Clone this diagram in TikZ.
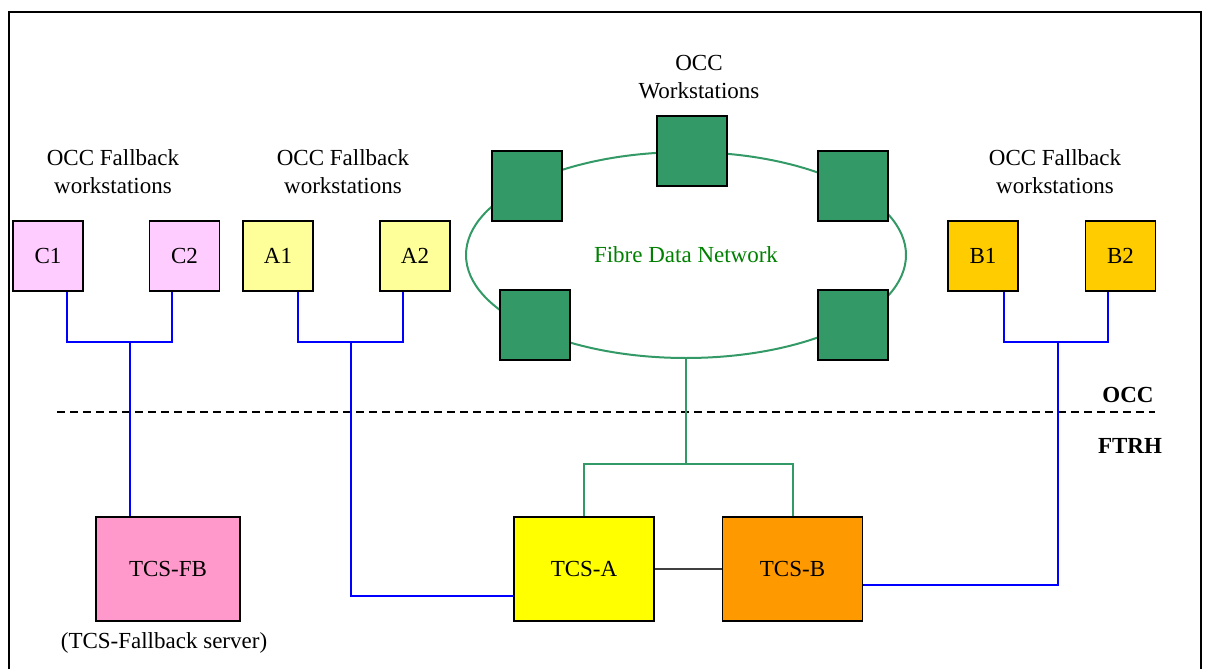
\documentclass[tikz,border=0pt]{standalone}
\usepackage{fontspec}
\setmainfont{Liberation Serif}
\usetikzlibrary{shapes.geometric,calc}
\definecolor{lilac}{HTML}{FFCCFF}
\definecolor{paleyellow}{HTML}{FFFF99}
\definecolor{gold}{HTML}{FFCC00}
\definecolor{rose}{HTML}{FF99CC}
\definecolor{brightyellow}{HTML}{FFFF00}
\definecolor{amber}{HTML}{FF9900}
\definecolor{netgreen}{HTML}{339966}
\definecolor{textgreen}{HTML}{008000}

\begin{document}
\begin{tikzpicture}[x=1pt, y=-1pt,
    every node/.style={font=\fontsize{23}{28}\selectfont},
    box/.style={draw=black, line width=1.5pt, minimum size=70pt, inner sep=0pt},
    server/.style={draw=black, line width=1.5pt, minimum width=140pt, minimum height=104pt, inner sep=0pt},
    ws/.style={box, fill=netgreen},
    blueline/.style={draw=blue, line width=2.5pt},
    greenline/.style={draw=netgreen, line width=2pt}]
\useasboundingbox (0,0) rectangle (1212,669);
% Draw frame
\draw[line width=2pt] (9,669) -- (9,12) -- (1201,12) -- (1201,669);
% Draw fibre ring and its workstations
\node[ellipse, draw=netgreen, line width=2pt, minimum width=440pt, minimum height=206pt, text=textgreen] (fdn) at (686,255) {Fibre Data Network};
\node[ws] (ws1) at (527,186) {};
\node[ws] (ws2) at (692,151) {};
\node[ws] (ws3) at (853,186) {};
\node[ws] (ws4) at (535,325) {};
\node[ws] (ws5) at (853,325) {};
\node[align=center] (occws) at (699,77) {OCC\\Workstations};
% Draw fallback workstations
\node[box, fill=lilac] (c1) at (48,256) {C1};
\node[box, fill=lilac] (c2) at (184.5,256) {C2};
\node[box, fill=paleyellow] (a1) at (278,256) {A1};
\node[box, fill=paleyellow] (a2) at (415,256) {A2};
\node[box, fill=gold] (b1) at (983,256) {B1};
\node[box, fill=gold] (b2) at (1120.5,256) {B2};
\node[align=center] (lblc) at (113,172) {OCC Fallback\\workstations};
\node[align=center] (lbla) at (343,172) {OCC Fallback\\workstations};
\node[align=center] (lblb) at (1055,172) {OCC Fallback\\workstations};
% Draw servers
\node[server, minimum width=144pt, fill=rose] (fb) at (168,569) {TCS-FB};
\node (fblbl) at (164,643) {(TCS-Fallback server)};
\node[server, fill=brightyellow] (tcsa) at (584,569) {TCS-A};
\node[server, fill=amber] (tcsb) at (792.5,569) {TCS-B};
% Draw boundary
\draw[dashed, dash pattern=on 8pt off 5pt, line width=1.2pt] (57,412) -- (1155,412);
\node[font=\fontsize{23}{28}\selectfont\bfseries] (occ) at (1128,395) {OCC};
\node[font=\fontsize{23}{28}\selectfont\bfseries] (ftrh) at (1130,446) {FTRH};
% Draw links
\coordinate (cj) at (130,342);
\coordinate (aj) at (351,342);
\coordinate (bj) at (1058,342);
\coordinate (gj) at ($(fdn.south)+(0,105)$);
\draw[blueline] ($(c1.south)+(19,0)$) |- (cj) -| ($(c2.south)+(-12.5,0)$);
\draw[blueline] (cj) -- (cj |- fb.north);
\draw[blueline] ($(a1.south)+(20,0)$) |- (aj) -| ($(a2.south)+(-12,0)$);
\draw[blueline] (aj) |- ($(tcsa.west)+(0,27)$);
\draw[blueline] ($(b1.south)+(21,0)$) |- (bj) -| ($(b2.south)+(-12.5,0)$);
\draw[blueline] (bj) |- ($(tcsb.east)+(0,16)$);
\draw[greenline] (fdn.south) -- (gj);
\draw[greenline] (tcsa.north) |- (gj) -| (tcsb.north);
\draw[line width=1.2pt, black!75] (tcsa) -- (tcsb);
\end{tikzpicture}
\end{document}
